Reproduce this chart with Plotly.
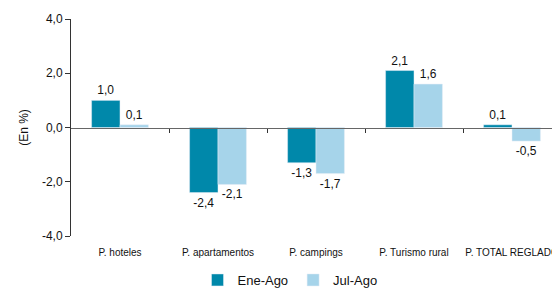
import plotly.graph_objects as go

categories = ["P. hoteles", "P. apartamentos", "P. campings", "P. Turismo rural", "P. TOTAL REGLADO"]
ene_ago = [1.0, -2.4, -1.3, 2.1, 0.1]
jul_ago = [0.1, -2.1, -1.7, 1.6, -0.5]
y_ticks = [-4, -2, 0, 2, 4]
boundaries = [0.5, 1.5, 2.5, 3.5]

W, H = 552, 289
L, T, B = 71, 19, 53

def fmt(v):
    return f"{v:.1f}".replace(".", ",")

fig = go.Figure()
fig.add_trace(go.Bar(name="Ene-Ago", x=categories, y=ene_ago, marker_color="#0088AA",
                     text=[fmt(v) for v in ene_ago], textposition="outside",
                     textfont=dict(size=12, color="#111"), cliponaxis=False))
fig.add_trace(go.Bar(name="Jul-Ago", x=categories, y=jul_ago, marker_color="#A6D4EA",
                     text=[fmt(v) for v in jul_ago], textposition="outside",
                     textfont=dict(size=12, color="#111"), cliponaxis=False))
fig.add_trace(go.Scatter(x=boundaries, y=[0]*len(boundaries), xaxis="x2", mode="markers",
                         marker=dict(opacity=0), showlegend=False, hoverinfo="skip"))

xr = [-0.5, 4.5 - 9/98]
fig.update_layout(
    width=W, height=H,
    margin=dict(l=L, r=0, t=T, b=B, autoexpand=False),
    plot_bgcolor="white", paper_bgcolor="white",
    font=dict(family="Liberation Sans, Arial, sans-serif", color="#111"),
    barmode="group", bargap=0.42, bargroupgap=0,
    showlegend=True,
    legend=dict(orientation="h", x=(290 - L) / (W - L), xanchor="center",
                y=-(280 - (H - B)) / (H - B - T), yanchor="middle",
                font=dict(size=13), itemwidth=30, traceorder="normal"),
    xaxis=dict(range=xr, showline=False, ticks="", showgrid=False, zeroline=False,
               tickfont=dict(size=10), ticklabelstandoff=9, automargin=False),
    xaxis2=dict(overlaying="x", anchor="free", position=0.5, range=xr, type="linear",
                showline=True, linecolor="#666", linewidth=1, ticks="outside",
                ticklen=4, tickcolor="#333", tickvals=boundaries, showticklabels=False,
                showgrid=False, zeroline=False, side="bottom", automargin=False),
    yaxis=dict(range=[-4, 4], tickvals=y_ticks, ticktext=[fmt(v) for v in y_ticks],
               showgrid=False, zeroline=False, showline=True, linecolor="#333", linewidth=1,
               ticks="outside", ticklen=5, tickcolor="#333", tickfont=dict(size=12),
               automargin=False,
               title=dict(text="(En %)", font=dict(size=12), standoff=10)),
)
fig.write_html("out.html", config={"displayModeBar": False},
               post_script="document.body.style.margin='0';document.body.style.overflow='hidden';")
